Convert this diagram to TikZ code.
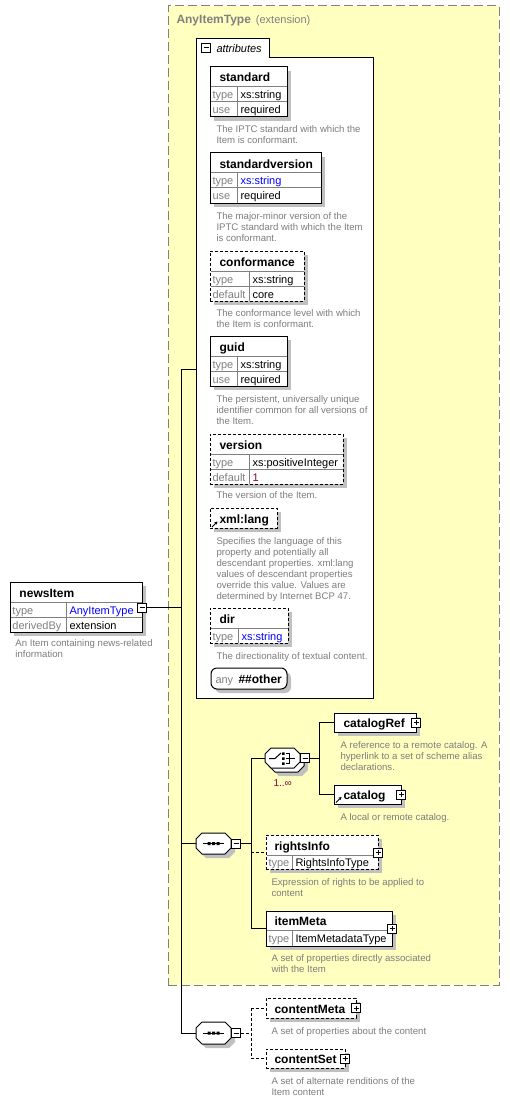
\documentclass[tikz,border=0pt]{standalone}
\usepackage{fontspec}
\setmainfont{Liberation Sans}
\usetikzlibrary{shadows,fit,arrows.meta}
\definecolor{yel}{RGB}{255,255,192}
\definecolor{yelborder}{RGB}{128,128,128}
\definecolor{shadowgray}{RGB}{192,192,192}
\definecolor{sepgray}{RGB}{128,128,128}
\definecolor{lblgray}{RGB}{128,128,128}
\definecolor{descgray}{RGB}{125,125,125}
\definecolor{linkblue}{RGB}{0,0,255}
\definecolor{numcol}{RGB}{128,0,64}
\newcommand\octpath[4]{(#1+6,#2) -- (#3-6,#2) -- (#3,#2+6) -- (#3,#4-6) -- (#3-6,#4) -- (#1+6,#4) -- (#1,#4-6) -- (#1,#2+6) -- cycle}
\begin{document}
\begin{tikzpicture}[x=1pt,y=-1pt,line width=1pt,
  box/.style={draw=black, fill=white, inner sep=0pt, line width=1pt, drop shadow={shadow xshift=4pt, shadow yshift=-4pt, fill=shadowgray, opacity=1}},
  opt/.style={dash pattern=on 3pt off 2pt},
  sep/.style={draw=sepgray, line width=1pt},
  ttl/.style={font=\fontsize{12}{14}\selectfont\bfseries, anchor=base west, inner sep=0pt},
  lbl/.style={font=\fontsize{11}{13}\selectfont, text=lblgray, anchor=base west, inner sep=0pt},
  val/.style={font=\fontsize{11}{13}\selectfont, text=black, anchor=base west, inner sep=0pt},
  desc/.style={font=\fontsize{9.6}{11}\selectfont, text=descgray, anchor=north west, inner sep=0pt, align=left},
  pm/.style={draw=black, fill=white, line width=1pt, minimum size=9pt, inner sep=0pt},
  pmminus/.style={pm, path picture={\draw[black,line width=1pt] ([xshift=2pt]path picture bounding box.west) -- ([xshift=-2pt]path picture bounding box.east);}},
  pmplus/.style={pm, path picture={\draw[black,line width=1pt] ([xshift=2pt]path picture bounding box.west) -- ([xshift=-2pt]path picture bounding box.east) ([yshift=-2pt]path picture bounding box.north) -- ([yshift=2pt]path picture bounding box.south);}},
  conn/.style={draw=black, line width=1pt},
  optconn/.style={conn, dash pattern=on 3pt off 2pt},
  anchorbox/.style={inner sep=0pt, draw=none, fill=none},
  octo/.style={draw=black, fill=white, line width=1pt, drop shadow={shadow xshift=4pt, shadow yshift=-4pt, fill=shadowgray, opacity=1}},
  refarrow/.style={-{Stealth[length=3pt,width=3.5pt]}, line width=1pt},
]
\useasboundingbox (0,0) rectangle (510,1102);
\fill[white] (0,0) rectangle (510,1102);

% extension region
\node[fit={(168,6)(499,985)}, inner sep=0pt, fill=yel, draw=yelborder, line width=1pt, dash pattern=on 9pt off 4pt] (ext) {};
\node[ttl, text=lblgray] (exttitle) at (176,24) {AnyItemType};
\node[lbl] (extkind) at ([xshift=4pt]exttitle.base east) {(extension)};

% trunk connectors
\coordinate (jnews) at (181,607.5);
\coordinate (jattr) at (181,369);
\coordinate (jseq1) at (181,843.5);
\coordinate (jseq2) at (181,1033);
\draw[conn] (jattr) -- (jseq2);
\draw[conn] (jattr) -- (196,369);
\draw[conn] (jseq1) -- (196,843.5);
\draw[conn] (jseq2) -- (196,1033);

% attributes container
\draw[line width=1pt, fill=white] (196,698) -- (196,39) -- (269,39) -- (269,58) -- (373,58) -- (373,698) -- cycle;
\node[anchorbox, fit={(196,58)(373,698)}] (attrs) {};
\node[pmminus] (attrsminus) at (206,48) {};
\node[val, font=\fontsize{11}{13}\selectfont\itshape] (attrslabel) at (216,53) {attributes};

% standard
\node[box, fit={(210,67)(287,117)}] (standard) {};
\draw[sep] (210.5,87) -- (286.5,87) (210.5,102) -- (286.5,102) (237,87) -- (237,116.5);
\node[ttl] (standard-t) at (219,82) {standard};
\node[lbl] (standard-l1) at (212,99) {type}; \node[val] (standard-v1) at (240,99) {xs:string};
\node[lbl] (standard-l2) at (212,114) {use}; \node[val] (standard-v2) at (240,114) {required};
\node[desc] (standard-d) at (216,125.5) {The IPTC standard with which the\\Item is conformant.};

% standardversion
\node[box, fit={(210,153)(321,203)}] (stdver) {};
\draw[sep] (210.5,173) -- (320.5,173) (210.5,188) -- (320.5,188) (237,173) -- (237,202.5);
\node[ttl] (stdver-t) at (219,168) {standardversion};
\node[lbl] (stdver-l1) at (212,185) {type}; \node[val, text=linkblue] (stdver-v1) at (240,185) {xs:string};
\node[lbl] (stdver-l2) at (212,200) {use}; \node[val] (stdver-v2) at (240,200) {required};
\node[desc] (stdver-d) at (216,212.5) {The major-minor version of the\\IPTC standard with which the Item\\is conformant.};

% conformance
\node[box, opt, fit={(210,251)(304,301)}] (conf) {};
\draw[sep] (210.5,271) -- (303.5,271) (210.5,286) -- (303.5,286) (249,271) -- (249,300.5);
\node[ttl] (conf-t) at (219,266) {conformance};
\node[lbl] (conf-l1) at (212,283) {type}; \node[val] (conf-v1) at (252,283) {xs:string};
\node[lbl] (conf-l2) at (212,298) {default}; \node[val] (conf-v2) at (252,298) {core};
\node[desc] (conf-d) at (216,309.5) {The conformance level with which\\the Item is conformant.};

% guid
\node[box, fit={(210,336)(287,386)}] (guid) {};
\draw[sep] (210.5,356) -- (286.5,356) (210.5,371) -- (286.5,371) (237,356) -- (237,385.5);
\node[ttl] (guid-t) at (219,351) {guid};
\node[lbl] (guid-l1) at (212,368) {type}; \node[val] (guid-v1) at (240,368) {xs:string};
\node[lbl] (guid-l2) at (212,383) {use}; \node[val] (guid-v2) at (240,383) {required};
\node[desc] (guid-d) at (216,395.5) {The persistent, universally unique\\identifier common for all versions of\\the Item.};

% version
\node[box, opt, fit={(210,434)(343,484)}] (version) {};
\draw[sep] (210.5,454) -- (342.5,454) (210.5,469) -- (342.5,469) (249,454) -- (249,483.5);
\node[ttl] (version-t) at (219,449) {version};
\node[lbl] (version-l1) at (212,466) {type}; \node[val] (version-v1) at (252,466) {xs:positiveInteger};
\node[lbl] (version-l2) at (212,481) {default}; \node[val, text=numcol] (version-v2) at (252,481) {1};
\node[desc] (version-d) at (216,491.5) {The version of the Item.};

% xml:lang
\node[box, opt, fit={(210,508)(277,528)}] (xmllang) {};
\node[ttl] (xmllang-t) at (219,523) {xml:lang};
\coordinate (xmllang-a1) at (212,527);
\coordinate (xmllang-a2) at (217.5,521.5);
\draw[refarrow] (xmllang-a1) -- (xmllang-a2);
\node[desc] (xmllang-d) at (216,537.5) {Specifies the language of this\\property and potentially all\\descendant properties. xml:lang\\values of descendant properties\\override this value. Values are\\determined by Internet BCP 47.};

% dir
\node[box, opt, fit={(210,608)(288,643)}] (dir) {};
\draw[sep] (210.5,628) -- (287.5,628) (238,628) -- (238,642.5);
\node[ttl] (dir-t) at (219,623) {dir};
\node[lbl] (dir-l1) at (212,640) {type}; \node[val, text=linkblue] (dir-v1) at (241,640) {xs:string};
\node[desc] (dir-d) at (216,652.5) {The directionality of textual content.};

% any ##other
\node[box, rounded corners=6pt, fit={(211,668)(287,689)}] (anyother) {};
\node[lbl] (anyother-l) at (215,683) {any};
\node[ttl] (anyother-t) at (238,683.5) {\#\#other};

% newsItem
\node[box, fit={(10,582)(142,632)}] (newsitem) {};
\draw[sep] (10.5,602) -- (141.5,602) (10.5,617) -- (141.5,617) (66,602) -- (66,631.5);
\node[ttl] (newsitem-t) at (19,597) {newsItem};
\node[lbl] (newsitem-l1) at (12,614) {type}; \node[val, text=linkblue] (newsitem-v1) at (69,614) {AnyItemType};
\node[lbl] (newsitem-l2) at (12,629) {derivedBy}; \node[val] (newsitem-v2) at (69,629) {extension};
\node[desc] (newsitem-d) at (15,639.5) {An Item containing news-related\\information};
\node[pmminus] (newsminus) at (142,607.5) {};
\draw[conn] (newsminus.east) -- (jnews);

% sequence 1
\node[anchorbox, fit={(196,833)(231,854)}] (seq1) {};
\draw[octo] \octpath{196}{833}{231}{854};
\draw[line width=1pt] (203,843.5) -- (224,843.5);
\fill (207.5,842) rectangle (210.5,845) (212,842) rectangle (215,845) (216.5,842) rectangle (219.5,845);
\node[pmminus] (seq1minus) at (236,843.5) {};
\coordinate (b1) at (251,843.5);
\coordinate (b1top) at (251,758);
\coordinate (b1ri) at (251,852);
\coordinate (b1bot) at (251,928.5);
\draw[conn] (seq1minus.east) -- (b1);
\draw[conn] (b1top) -- (b1bot);

% choice
\node[anchorbox, fit={(265,748)(300,768)}] (choice) {};
\draw[octo] \octpath{269}{752}{304}{772};
\draw[line width=1pt, fill=white] \octpath{265}{748}{300}{768};
\draw[line width=1pt] (269,758.5) -- (275,758.5) -- (281,753);
\fill (282,752.3) rectangle (284.5,754.8) (282,757.3) rectangle (284.5,759.8) (282,762.3) rectangle (284.5,764.8);
\draw[line width=1pt] (286,753.5) -- (289,753.5) -- (289,763.5) -- (286,763.5) (286,758.5) -- (295,758.5);
\node[val, text=numcol, font=\fontsize{10}{12}\selectfont] (choice-occ) at (273,786) {1..∞};
\node[pmminus] (choiceminus) at (305,758) {};
\coordinate (c1) at (319,758);
\coordinate (c1top) at (319,722.5);
\coordinate (c1bot) at (319,794.5);
\draw[conn] (b1top) -- (choice.west);
\draw[conn] (choiceminus.east) -- (c1);
\draw[conn] (c1top) -- (c1bot);

% catalogRef
\node[box, fit={(334,713)(416,732)}] (catalogRef) {};
\node[ttl] (catalogRef-t) at (343,727.5) {catalogRef};
\node[pmplus] (catalogRef-p) at (416,722.5) {};
\node[desc] (catalogRef-d) at (340,741.5) {A reference to a remote catalog. A\\hyperlink to a set of scheme alias\\declarations.};
\draw[conn] (c1top) -- (catalogRef.west);

% catalog
\node[box, fit={(334,785)(401,804)}] (catalog) {};
\node[ttl] (catalog-t) at (343,799.5) {catalog};
\coordinate (catalog-a1) at (336,802.5);
\coordinate (catalog-a2) at (341.5,797);
\draw[refarrow] (catalog-a1) -- (catalog-a2);
\node[pmplus] (catalog-p) at (401,794.5) {};
\node[desc] (catalog-d) at (340,813.5) {A local or remote catalog.};
\draw[conn] (c1bot) -- (catalog.west);

% rightsInfo
\node[box, opt, fit={(266,835)(378,869)}] (rightsInfo) {};
\draw[sep] (266.5,855) -- (377.5,855) (292,855) -- (292,868.5);
\node[ttl] (rightsInfo-t) at (274,850) {rightsInfo};
\node[lbl] (rightsInfo-l1) at (268,866) {type}; \node[val] (rightsInfo-v1) at (295,866) {RightsInfoType};
\node[pmplus] (rightsInfo-p) at (378,852.5) {};
\node[desc] (rightsInfo-d) at (271,878.5) {Expression of rights to be applied to\\content};
\draw[optconn] (b1ri) -- (rightsInfo.west);

% itemMeta
\node[box, fit={(266,911)(392,946)}] (itemMeta) {};
\draw[sep] (266.5,930) -- (391.5,930) (292,930) -- (292,945.5);
\node[ttl] (itemMeta-t) at (274,925.5) {itemMeta};
\node[lbl] (itemMeta-l1) at (268,942) {type}; \node[val] (itemMeta-v1) at (295,942) {ItemMetadataType};
\node[pmplus] (itemMeta-p) at (392,928.5) {};
\node[desc] (itemMeta-d) at (271,954.5) {A set of properties directly associated\\with the Item};
\draw[conn] (b1bot) -- (itemMeta.west);

% sequence 2
\node[anchorbox, fit={(196,1022)(231,1044)}] (seq2) {};
\draw[octo] \octpath{196}{1022}{231}{1044};
\draw[line width=1pt] (203,1033) -- (224,1033);
\fill (207.5,1031.5) rectangle (210.5,1034.5) (212,1031.5) rectangle (215,1034.5) (216.5,1031.5) rectangle (219.5,1034.5);
\node[pmminus] (seq2minus) at (236,1033) {};
\coordinate (b2) at (251,1033);
\coordinate (b2top) at (251,1008);
\coordinate (b2bot) at (251,1058.5);
\draw[optconn] (seq2minus.east) -- (b2);
\draw[optconn] (b2top) -- (b2bot);

% contentMeta
\node[box, opt, fit={(266,998)(356,1018)}] (contentMeta) {};
\node[ttl] (contentMeta-t) at (274,1013) {contentMeta};
\node[pmplus] (contentMeta-p) at (356,1008) {};
\node[desc] (contentMeta-d) at (271,1027.5) {A set of properties about the content};
\draw[optconn] (b2top) -- (contentMeta.west);

% contentSet
\node[box, opt, fit={(266,1049)(345,1068)}] (contentSet) {};
\node[ttl] (contentSet-t) at (274,1063.5) {contentSet};
\node[pmplus] (contentSet-p) at (345,1058.5) {};
\node[desc] (contentSet-d) at (271,1077.5) {A set of alternate renditions of the\\Item content};
\draw[optconn] (b2bot) -- (contentSet.west);
\end{tikzpicture}
\end{document}
